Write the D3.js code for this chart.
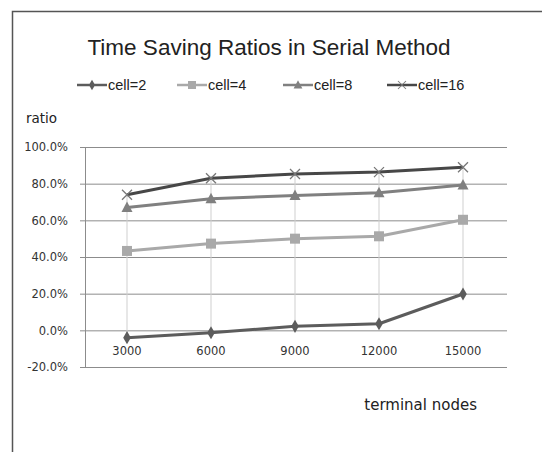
<!DOCTYPE html>
<html>
<head>
<meta charset="utf-8">
<script src="https://cdn.jsdelivr.net/npm/d3@7"></script>
<style>
  html, body { margin: 0; padding: 0; background: #fff; }
  svg { display: block; }
</style>
</head>
<body>
<svg id="chart" width="542" height="452"></svg>
<script>
// Category axis and series (ratio in %)
const categories = ["3000", "6000", "9000", "12000", "15000"];
const seriesNames = ["cell=2", "cell=4", "cell=8", "cell=16"];
const cell2  = [-4.0, -1.3, 2.2, 3.6, 19.8];
const cell4  = [43.3, 47.3, 50.0, 51.3, 60.3];
const cell8  = [67.0, 71.8, 73.6, 75.0, 79.3];
const cell16 = [74.0, 83.0, 85.3, 86.3, 89.0];
const yTicks = [-20, 0, 20, 40, 60, 80, 100];

const seriesValues = [cell2, cell4, cell8, cell16];
const colors = ["#5c5c5c", "#a9a9a9", "#808080", "#474747"];
const markers = ["diamond", "square", "triangle", "cross"];

const svg = d3.select("#chart");
const font = "'Liberation Sans', Arial, sans-serif";

// Outer frame (top and left edges)
svg.append("path")
  .attr("d", "M12.5,452 L12.5,11.5 L542,11.5")
  .attr("fill", "none").attr("stroke", "#555").attr("stroke-width", 1.5);

const plot = { left: 85, right: 505, top: 147, bottom: 367 };

const x = d3.scaleBand().domain(categories).range([plot.left, plot.right]);
const y = d3.scaleLinear().domain([-20, 100]).range([plot.bottom, plot.top]);
const cx = c => x(c) + x.bandwidth() / 2;

// Title
svg.append("text")
  .attr("x", 269).attr("y", 55)
  .attr("text-anchor", "middle")
  .attr("font-family", font).attr("font-size", 22.5).attr("fill", "#222")
  .text("Time Saving Ratios in Serial Method");

// Horizontal gridlines
const yAxis = d3.axisLeft(y).tickValues(yTicks)
  .tickSize(-(plot.right - plot.left + 2))
  .tickPadding(14)
  .tickFormat(d => d.toFixed(1) + "%");
const gy = svg.append("g")
  .attr("transform", `translate(${plot.left - 5},0)`)
  .call(yAxis);
gy.select(".domain").remove();
gy.selectAll(".tick line")
  .attr("x1", 0).attr("x2", plot.right - plot.left + 7)
  .attr("stroke", "#8c8c8c").attr("stroke-width", 1);
gy.selectAll(".tick text")
  .attr("x", -12)
  .attr("font-family", "'DejaVu Sans', Verdana, sans-serif")
  .attr("font-size", 11.5).attr("fill", "#333");

// Vertical value axis line
svg.append("line")
  .attr("x1", plot.left + 0.5).attr("x2", plot.left + 0.5)
  .attr("y1", plot.top).attr("y2", plot.bottom)
  .attr("stroke", "#8c8c8c");

// Category labels
const xAxis = d3.axisBottom(x).tickSize(0).tickPadding(0);
const gx = svg.append("g")
  .attr("transform", `translate(0,${y(0) + 25})`)
  .call(xAxis);
gx.select(".domain").remove();
gx.selectAll(".tick text")
  .attr("dy", 0)
  .attr("font-family", "'DejaVu Sans', Verdana, sans-serif")
  .attr("font-size", 11.5).attr("fill", "#333");

// High-low lines between the highest and lowest series at each category
svg.append("g").selectAll("line")
  .data(categories)
  .join("line")
  .attr("x1", c => cx(c)).attr("x2", c => cx(c))
  .attr("y1", (c, i) => y(d3.max(seriesValues, s => s[i])))
  .attr("y2", (c, i) => y(d3.min(seriesValues, s => s[i])))
  .attr("stroke", "#cfcfcf").attr("stroke-width", 1);

function drawMarker(g, type, color) {
  if (type === "diamond") {
    g.append("path").attr("d", d3.symbol(d3.symbolDiamond, 50)())
      .attr("fill", color);
  } else if (type === "square") {
    g.append("rect").attr("x", -5).attr("y", -5).attr("width", 10).attr("height", 10)
      .attr("fill", color);
  } else if (type === "triangle") {
    g.append("path").attr("d", "M0,-6 L5.5,4.5 L-5.5,4.5 Z").attr("fill", color);
  } else if (type === "cross") {
    g.append("path").attr("d", "M-5,-5 L5,5 M5,-5 L-5,5")
      .attr("stroke", "#777").attr("stroke-width", 1.3).attr("fill", "none");
  }
}

// Series lines and markers
const line = d3.line().x((d, i) => cx(categories[i])).y(d => y(d));
seriesValues.forEach((vals, si) => {
  svg.append("path")
    .datum(vals)
    .attr("d", line)
    .attr("fill", "none")
    .attr("stroke", colors[si]).attr("stroke-width", 3)
    .attr("stroke-linejoin", "round");
  svg.append("g").selectAll("g")
    .data(vals)
    .join("g")
    .attr("transform", (d, i) => `translate(${cx(categories[i])},${y(d)})`)
    .each(function () { drawMarker(d3.select(this), markers[si], colors[si]); });
});

// Legend
const legendX = [77, 177, 283, 387];
const legend = svg.append("g");
seriesNames.forEach((name, si) => {
  const lg = legend.append("g").attr("transform", `translate(${legendX[si]},85)`);
  lg.append("line").attr("x1", 0).attr("x2", 30).attr("y1", 0).attr("y2", 0)
    .attr("stroke", colors[si]).attr("stroke-width", 2.5);
  const m = lg.append("g").attr("transform", "translate(15,0) scale(0.8)");
  drawMarker(m, markers[si], colors[si]);
  lg.append("text").attr("x", 31).attr("y", 5)
    .attr("font-family", font).attr("font-size", 14.5).attr("fill", "#222")
    .text(name);
});

// Axis titles
svg.append("text")
  .attr("x", 26).attr("y", 123)
  .attr("font-family", "'DejaVu Sans', sans-serif").attr("font-size", 13.5).attr("fill", "#222")
  .text("ratio");
svg.append("text")
  .attr("x", 477).attr("y", 410)
  .attr("text-anchor", "end")
  .attr("font-family", "'DejaVu Sans', sans-serif").attr("font-size", 15).attr("fill", "#222")
  .text("terminal nodes");
</script>
</body>
</html>
